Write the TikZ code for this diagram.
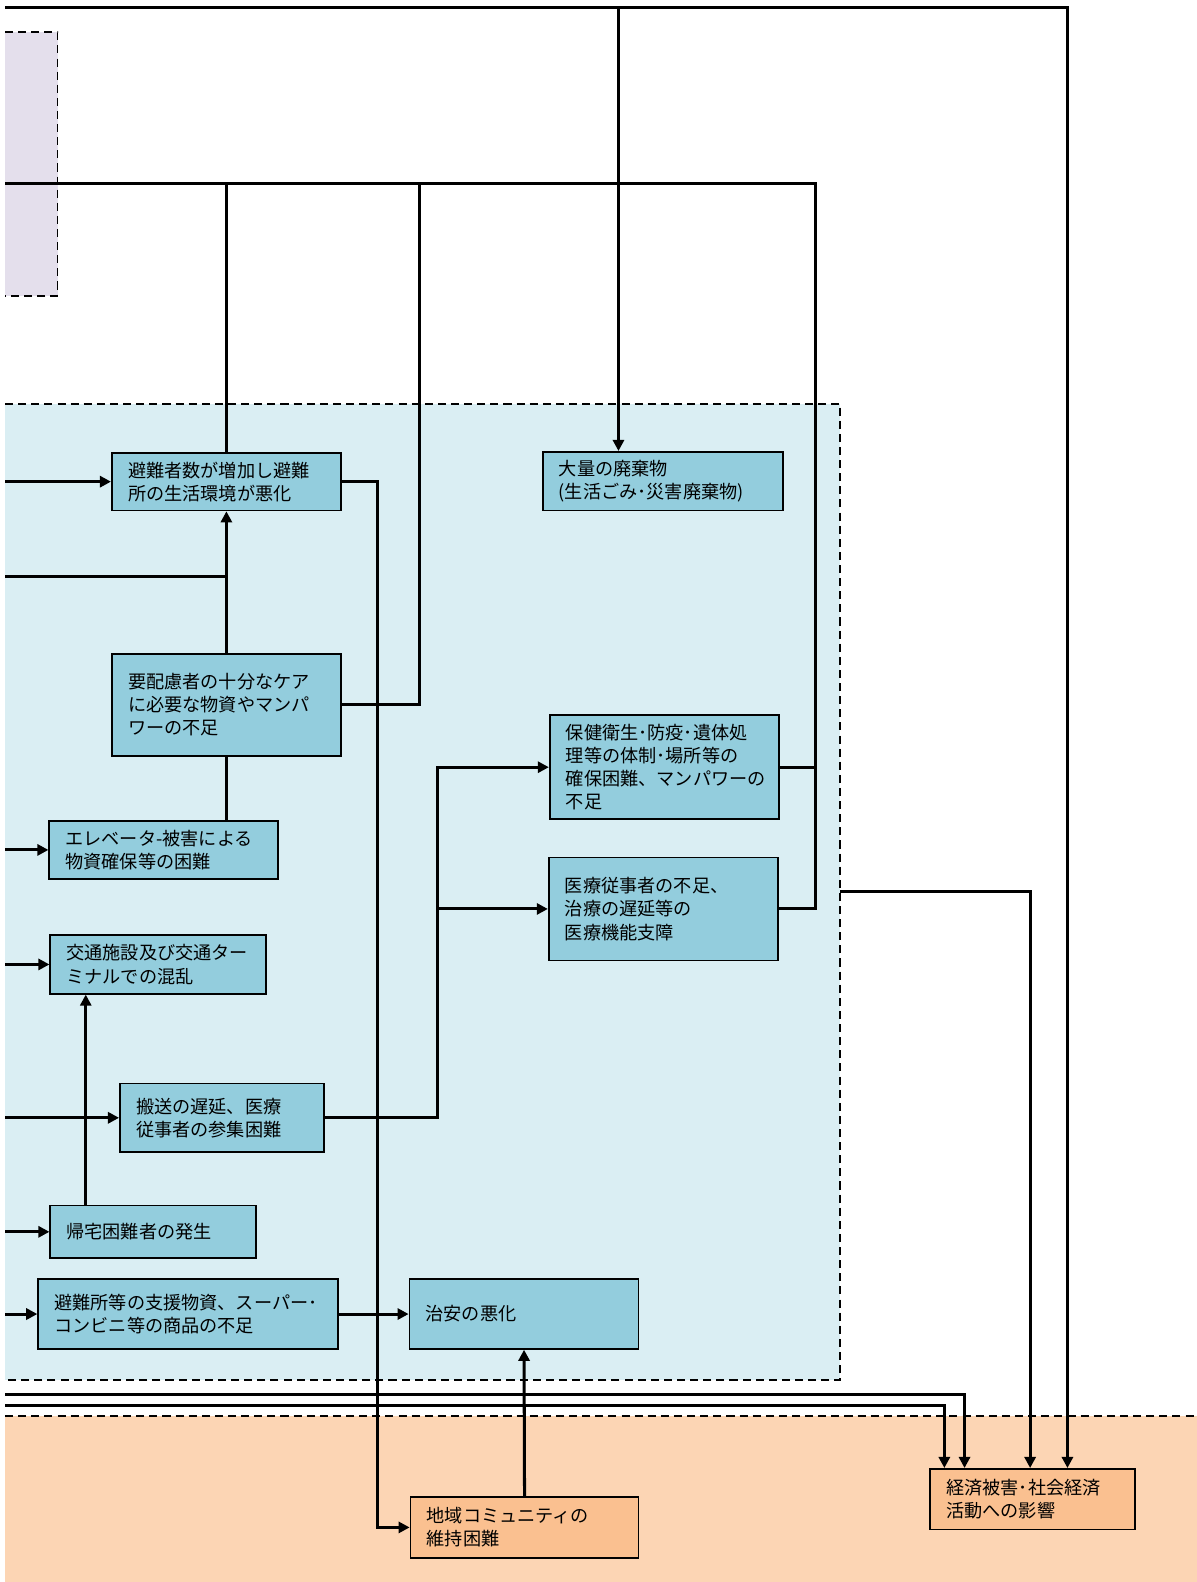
\documentclass[tikz,border=0pt]{standalone}
\usepackage{fontspec}
\setmainfont{Noto Sans CJK JP}
\usetikzlibrary{arrows.meta}
\definecolor{boxblue}{HTML}{93CDDD}
\definecolor{zoneblue}{HTML}{DAEEF3}
\definecolor{zonepurple}{HTML}{E4DFEC}
\definecolor{zoneorange}{HTML}{FCD5B4}
\definecolor{boxorange}{HTML}{FAC090}

\begin{document}
\begin{tikzpicture}[x=1pt,y=-1pt,
    cause/.style={draw=black,line width=1.8pt,fill=boxblue,anchor=north west,
      inner xsep=16pt,inner ysep=0pt,align=left,font=\fontsize{18}{23}\selectfont},
    effect/.style={cause,fill=boxorange},
    link/.style={line width=3pt},
    arr/.style={-{Triangle[length=11pt,width=11pt]}},
    zone/.style={dash pattern=on 8pt off 5pt,line width=1.9pt}]
      \useasboundingbox (0,0) rectangle (1186,1568);

      \fill[zonepurple] (5,32) rectangle (57,293);
      \draw[zone] (5,32) -- (57,32) -- (57,293) -- (5,293);
      \fill[zoneblue] (5,400) rectangle (833,1368);
      \draw[zone] (5,400) -- (833,400) -- (833,1368) -- (5,1368);
      \fill[zoneorange] (5,1403) rectangle (1186,1568);
      \draw[zone] (5,1403) -- (1186,1403);

      \node[cause,minimum width=227pt,minimum height=57pt,text width=195pt] (hinan) at (110,448)
        {避難者数が増加し避難\\所の生活環境が悪化};
      \node[cause,minimum width=238pt,minimum height=58pt,text width=206pt] (haiki) at (537,447)
        {大量の廃棄物\\(生活ごみ･災害廃棄物)};
      \node[cause,minimum width=227pt,minimum height=101pt,text width=195pt] (yohairyo) at (110,647)
        {要配慮者の十分なケア\\に必要な物資やマンパ\\ワーの不足};
      \node[cause,minimum width=227pt,minimum height=103pt,text width=195pt] (hoken) at (544,708)
        {保健衛生･防疫･遺体処\\理等の体制･場所等の\\確保困難、マンパワーの\\不足};
      \node[cause,minimum width=227pt,minimum height=102pt,text width=195pt] (iryo) at (543,849)
        {医療従事者の不足、\\治療の遅延等の\\医療機能支障};
      \node[cause,minimum width=227pt,minimum height=57pt,text width=195pt] (elev) at (48,813)
        {エレベータ-被害による\\物資確保等の困難};
      \node[cause,minimum width=214pt,minimum height=58pt,text width=182pt] (kotsu) at (49,926)
        {交通施設及び交通ター\\ミナルでの混乱};
      \node[cause,minimum width=202pt,minimum height=68pt,text width=170pt] (hanso) at (118,1073)
        {搬送の遅延、医療\\従事者の参集困難};
      \node[cause,minimum width=204pt,minimum height=52pt,text width=172pt] (kitaku) at (49,1194)
        {帰宅困難者の発生};
      \node[cause,minimum width=297pt,minimum height=69pt,text width=265pt] (shien) at (37,1267)
        {避難所等の支援物資、スーパー･\\コンビニ等の商品の不足};
      \node[cause,minimum width=227pt,minimum height=69pt,text width=195pt] (chian) at (405,1267)
        {治安の悪化};
      \node[effect,minimum width=226pt,minimum height=60pt,text width=194pt] (chiiki) at (406,1483)
        {地域コミュニティの\\維持困難};
      \node[effect,minimum width=203pt,minimum height=60pt,text width=171pt] (keizai) at (921,1455)
        {経済被害･社会経済\\活動への影響};

      \coordinate (edge) at (5,0);
      \coordinate (topL) at (5,7);
      \coordinate (backL) at (5,182);
      \coordinate (backM) at (416,182);
      \coordinate (backR) at (808,182);
      \coordinate (jn) at (223.5,571);
      \coordinate (bzone) at (833,884);
      \coordinate (lowA) at (5,1382);
      \coordinate (lowB) at (5,1393);
      \coordinate (haikiIn) at ([xshift=76pt]haiki.north west);
      \coordinate (kt) at ([xshift=36pt]kitaku.north west);

      \draw[link,arr] (topL) -| ([xshift=137pt]keizai.north west);
      \draw[link,arr] (topL -| haikiIn) -- (haikiIn);

      \draw[link] (iryo.east) -| (backR) -- (backL);
      \draw[link] (hoken.east) -- (hoken.east -| backR);
      \draw[link] (yohairyo.east) -| (backM);
      \draw[link] (hinan.north) -- (hinan.north |- backL);

      \draw[link,arr] (edge |- hinan.west) -- (hinan.west);
      \draw[link] (edge |- jn) -- (jn);
      \draw[link,arr] (yohairyo.north) -- (hinan.south);
      \draw[link] (yohairyo.south |- elev.north) -- (yohairyo.south);
      \draw[link,arr] (hinan.east) -- ++(35,0) |- (chiiki.west);

      \draw[link,arr] (edge |- elev.west) -- (elev.west);
      \draw[link,arr] (edge |- kotsu.west) -- (kotsu.west);
      \draw[link,arr] (edge |- hanso.west) -- (hanso.west);
      \draw[link,arr] (edge |- kitaku.west) -- (kitaku.west);
      \draw[link,arr] (edge |- shien.west) -- (shien.west);
      \draw[link,arr] (kt) -- (kt |- kotsu.south);

      \draw[link,arr] (hanso.east) -- ++(112,0) |- (hoken.west);
      \draw[link,arr] (hanso.east) ++(112,0) |- (iryo.west);
      \draw[link,arr] (shien.east) -- (chian.west);
      \draw[link,arr] (chiiki.north) -- (chian.south);

      \draw[link,arr] (bzone) -| ([xshift=100pt]keizai.north west);
      \draw[link,arr] (lowA) -| ([xshift=35pt]keizai.north west);
      \draw[link,arr] (lowB) -| ([xshift=15pt]keizai.north west);
\end{tikzpicture}
\end{document}
